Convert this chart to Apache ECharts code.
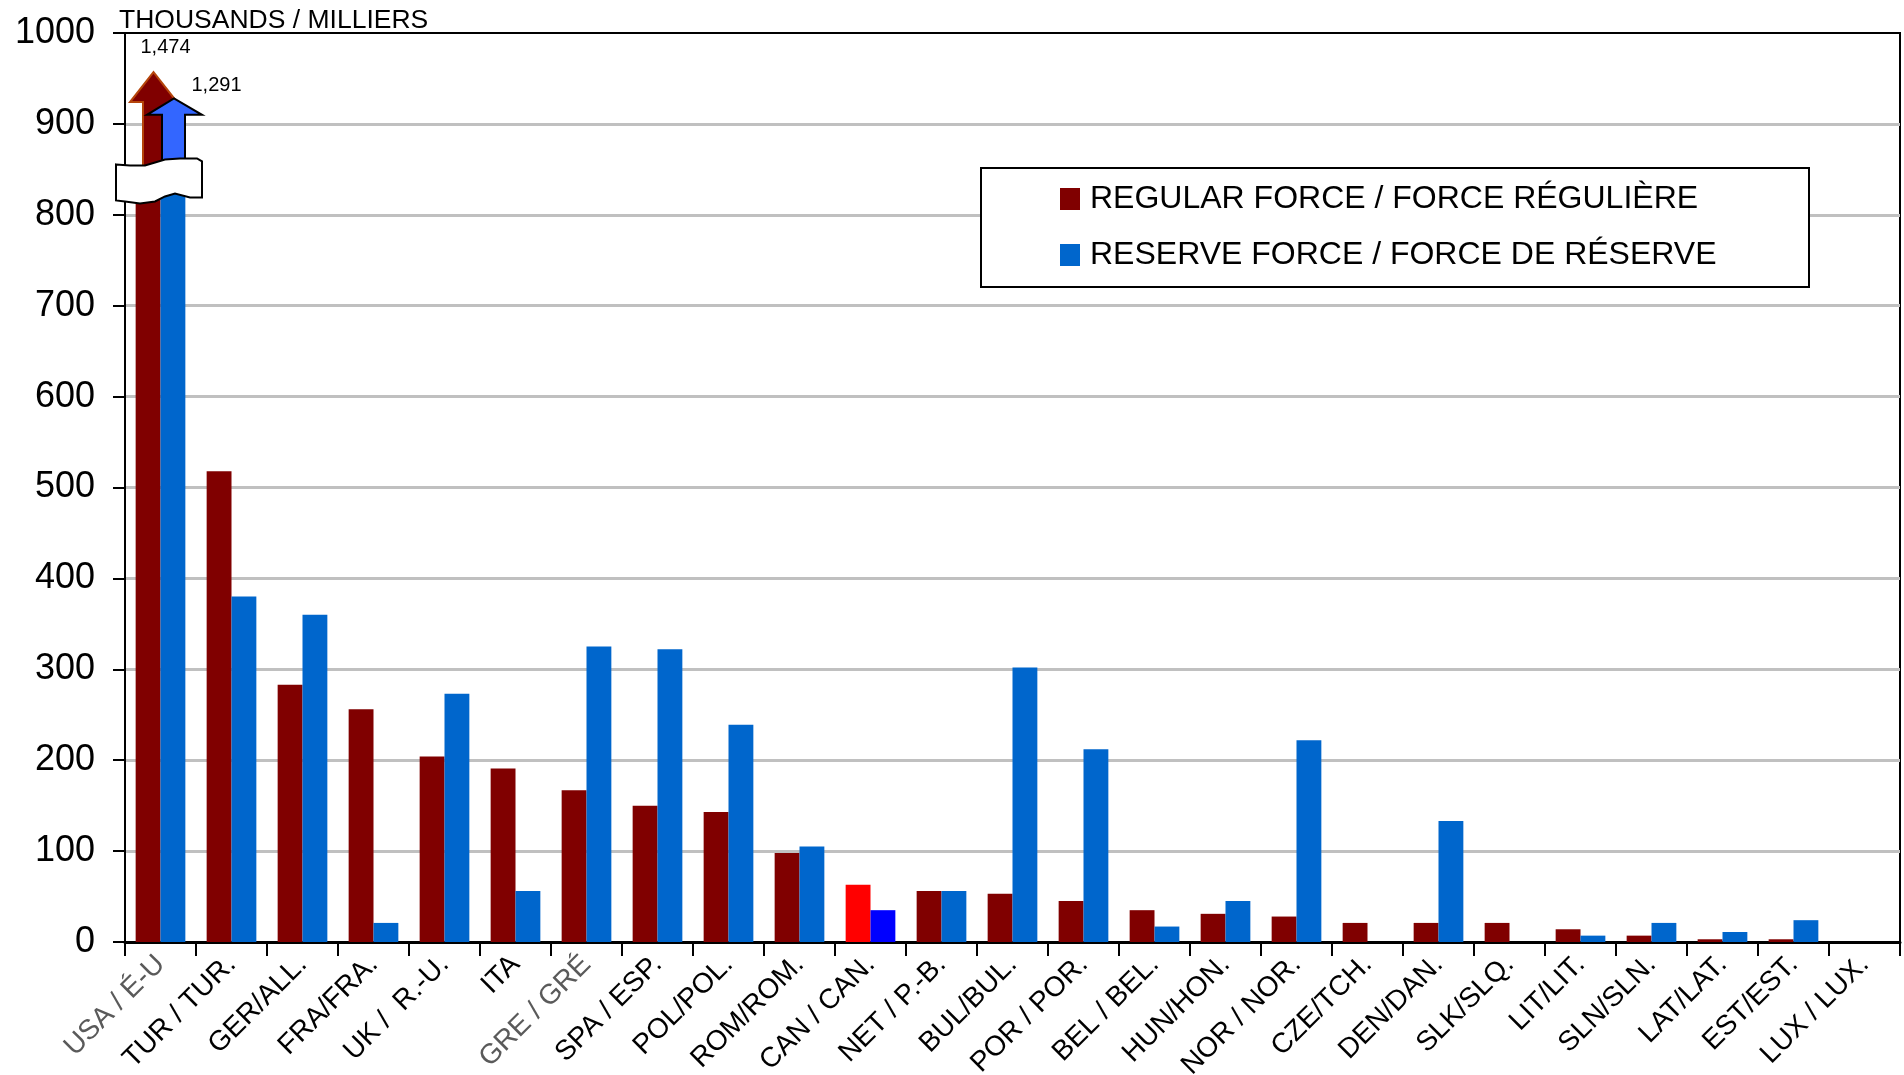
<!DOCTYPE html>
<html>
<head>
<meta charset="utf-8">
<script src="https://cdn.jsdelivr.net/npm/echarts@6/dist/echarts.min.js"></script>
<style>
html,body{margin:0;padding:0;background:#fff;}
#chart{width:1904px;height:1075px;}
</style>
</head>
<body>
<div id="chart"></div>
<script>
// ---- data ----
const categories = ["USA / É-U", "TUR / TUR.", "GER/ALL.", "FRA/FRA.", "UK /  R.-U.", "ITA", "GRE / GRÉ", "SPA / ESP.", "POL/POL.", "ROM/ROM.", "CAN / CAN.", "NET / P.-B.", "BUL/BUL.", "POR / POR.", "BEL / BEL.", "HUN/HON.", "NOR / NOR.", "CZE/TCH.", "DEN/DAN.", "SLK/SLQ.", "LIT/LIT.", "SLN/SLN.", "LAT/LAT.", "EST/EST.", "LUX / LUX."];
const regularForce = [1474, 518, 283, 256, 204, 191, 167, 150, 143, 98, 63, 56, 53, 45, 35, 31, 28, 21, 21, 21, 14, 7, 3, 3, 0];
const reserveForce = [1291, 380, 360, 21, 273, 56, 325, 322, 239, 105, 35, 56, 302, 212, 17, 45, 222, 0, 133, 0, 7, 21, 11, 24, 0];
const yTicks = [0, 100, 200, 300, 400, 500, 600, 700, 800, 900, 1000];
const seriesNames = ["REGULAR FORCE / FORCE RÉGULIÈRE", "RESERVE FORCE / FORCE DE RÉSERVE"];
const unitLabel = "THOUSANDS / MILLIERS";
const highlightCategory = "CAN / CAN.";

// ---- styling ----
const FONT = "Liberation Sans, Arial, sans-serif";
const C_REG = "#800000", C_RES = "#0066CC";
const C_REG_HI = "#FF0000", C_RES_HI = "#0000FF";
const yMax = yTicks[yTicks.length - 1];
const BREAK_AT = 840;

function barData(arr, hiColor) {
  return arr.map((v, i) => {
    const item = { value: v > yMax ? '-' : v };
    if (categories[i] === highlightCategory) item.itemStyle = { color: hiColor };
    return item;
  });
}
const overflow = [];
regularForce.forEach((v, i) => { if (v > yMax) overflow.push([i, v, 0]); });
reserveForce.forEach((v, i) => { if (v > yMax) overflow.push([i, v, 1]); });
const breakCats = [...new Set(overflow.map(d => d[0]))].map(i => [i]);

function renderArrow(params, api) {
  const cat = api.value(0), val = api.value(1), s = api.value(2);
  const base = api.coord([cat, 0]);
  const c = base[0], y0 = base[1];
  const band = api.size([1, 0])[0];
  const bw = band * 0.35;
  const yBrk = api.coord([cat, BREAK_AT])[1];
  let pts, fill, stroke, yTip, lx, ly, x0;
  if (s === 0) {
    const yB = api.coord([cat, 924])[1]; yTip = api.coord([cat, 957])[1];
    pts = [[c - 17.5, yBrk], [c - 17.5, yB], [c - 30.5, yB], [c - 7, yTip], [c + 16.5, yB], [c + 8, yB], [c + 8, yBrk]];
    fill = C_REG; stroke = "#B5450B"; x0 = c - bw; lx = c + 5; ly = yTip - 25;
  } else {
    const yB = api.coord([cat, 910])[1]; yTip = api.coord([cat, 928])[1];
    pts = [[c + 1.5, yBrk], [c + 1.5, yB], [c - 13.5, yB], [c + 13.5, yTip], [c + 41.5, yB], [c + 24.5, yB], [c + 24.5, yBrk]];
    fill = "#3366FF"; stroke = "#000"; x0 = c; lx = c + 56; ly = yTip - 13;
  }
  return {
    type: 'group',
    children: [
      { type: 'rect', shape: { x: x0, y: yBrk, width: bw, height: y0 - yBrk }, style: { fill: s === 0 ? C_REG : C_RES } },
      { type: 'polygon', shape: { points: pts }, style: { fill: fill, stroke: stroke, lineWidth: 2 } },
      { type: 'text', style: { text: Number(val).toLocaleString('en-US'), x: lx, y: ly, font: '20px ' + FONT, fill: '#000', align: 'center', verticalAlign: 'middle' } }
    ]
  };
}

function renderBreak(params, api) {
  const cat = api.value(0);
  const c = api.coord([cat, 0])[0];
  const yb = api.coord([cat, BREAK_AT])[1];
  const off = [[-44.5, -14], [-30.5, -13], [-15.5, -13], [-5.5, -16], [4.5, -19], [19.5, -20], [36.5, -20], [41.5, -17],
               [41.5, 19], [29.5, 19], [14.5, 15], [4.5, 18], [-5.5, 23], [-20.5, 25], [-35.5, 23], [-44.5, 22]];
  return { type: 'polygon', shape: { points: off.map(p => [c + p[0], yb + p[1]]) }, style: { fill: '#fff', stroke: '#000', lineWidth: 2 } };
}

const chart = echarts.init(document.getElementById('chart'), null, { renderer: 'canvas' });
chart.setOption({
  backgroundColor: '#fff',
  animation: false,
  textStyle: { fontFamily: FONT },
  title: { text: unitLabel, left: 119, top: 7, padding: 0, textStyle: { fontSize: 26.5, fontWeight: 'normal', color: '#000', fontFamily: FONT } },
  grid: { left: 125, right: 4, top: 33, bottom: 133, show: true, borderColor: '#000', borderWidth: 2, backgroundColor: 'transparent', containLabel: false, outerBoundsMode: 'none' },
  legend: {
    data: seriesNames, orient: 'vertical', left: 1060, top: 183, itemWidth: 20, itemHeight: 22, itemGap: 24,
    icon: 'rect', padding: 0, z: 10,
    textStyle: { fontSize: 32, color: '#000', fontFamily: FONT, padding: [0, 0, 0, 5] }
  },
  graphic: [{ type: 'rect', z: 9, shape: { x: 981, y: 168, width: 828, height: 119 }, style: { fill: '#fff', stroke: '#000', lineWidth: 2 } }],
  xAxis: {
    type: 'category', data: categories,
    axisLine: { lineStyle: { color: '#000', width: 3 } },
    axisTick: { show: true, length: 14, lineStyle: { color: '#000', width: 2 } },
    axisLabel: {
      rotate: 45, fontSize: 28, margin: 18, interval: 0, fontFamily: FONT,
      color: (v) => (v === categories[0] || v === categories[6]) ? '#5a5a5a' : '#000'
    },
    splitLine: { show: false }
  },
  yAxis: {
    type: 'value', min: yTicks[0], max: yMax, interval: yTicks[1] - yTicks[0],
    axisLine: { show: true, lineStyle: { color: '#000', width: 2 } },
    axisTick: { show: true, length: 12, lineStyle: { color: '#000', width: 2 } },
    axisLabel: { fontSize: 36, color: '#000', margin: 30, fontFamily: FONT, formatter: (v) => String(v) },
    splitLine: { show: true, showMinLine: false, showMaxLine: false, lineStyle: { color: '#c0c0c0', width: 3 } }
  },
  series: [
    { name: seriesNames[0], type: 'bar', data: barData(regularForce, C_REG_HI), itemStyle: { color: C_REG }, barGap: '0%', barCategoryGap: '30%', z: 2 },
    { name: seriesNames[1], type: 'bar', data: barData(reserveForce, C_RES_HI), itemStyle: { color: C_RES }, barGap: '0%', barCategoryGap: '30%', z: 2 },
    { name: 'overflow', type: 'custom', data: overflow, renderItem: renderArrow, z: 3, clip: false, silent: true },
    { name: 'break', type: 'custom', data: breakCats, renderItem: renderBreak, z: 5, clip: false, silent: true }
  ]
});
</script>
</body>
</html>
